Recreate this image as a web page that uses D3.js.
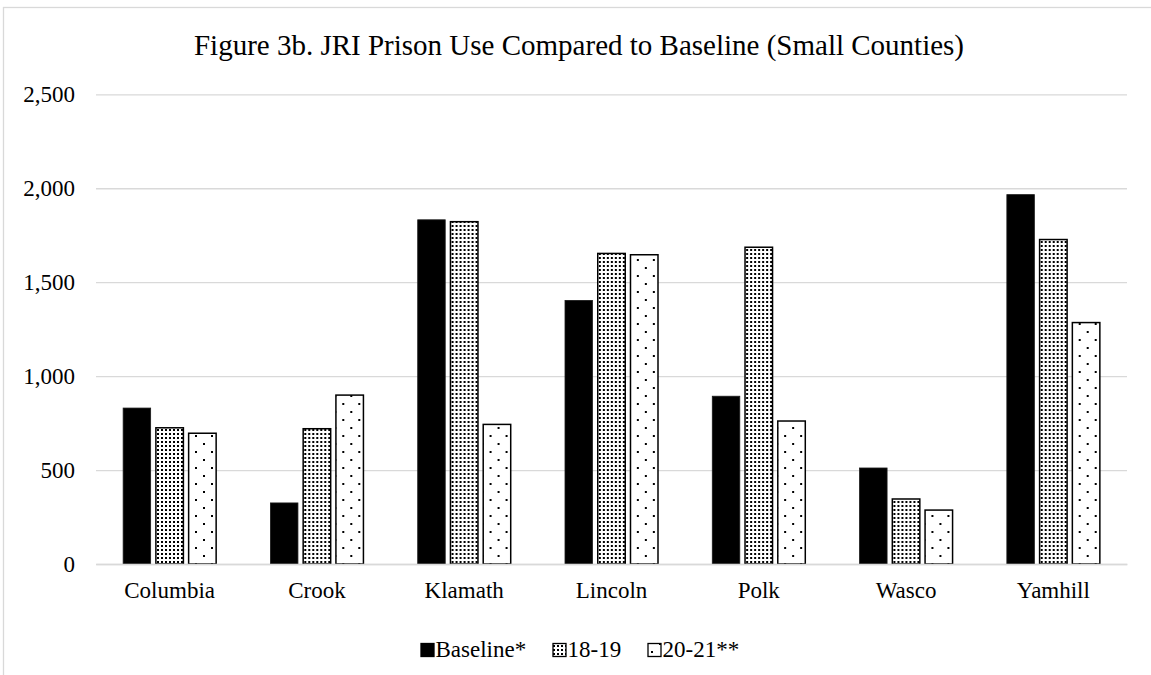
<!DOCTYPE html>
<html>
<head>
<meta charset="utf-8">
<script src="https://cdn.jsdelivr.net/npm/d3@7"></script>
<style>
  html, body { margin: 0; padding: 0; background: #fff; }
  svg { display: block; font-family: "Liberation Serif", "Times New Roman", serif; }
</style>
</head>
<body>
<svg id="chart" width="1151" height="675"></svg>
<script>
const title = "Figure 3b. JRI Prison Use Compared to Baseline (Small Counties)";
const categories = ["Columbia", "Crook", "Klamath", "Lincoln", "Polk", "Wasco", "Yamhill"];
const seriesNames = ["Baseline*", "18-19", "20-21**"];
const baselineValues = [830, 325, 1832, 1403, 893, 511, 1966];
const values1819 = [725, 720, 1822, 1653, 1686, 346, 1727];
const values2021 = [696, 899, 743, 1646, 761, 287, 1285];
const tickValues = [0, 500, 1000, 1500, 2000, 2500];

const seriesValues = [baselineValues, values1819, values2021];

const svg = d3.select("#chart");
const W = 1151, H = 675;
const plot = { left: 96, right: 1127, top: 94.3, bottom: 564 };

// chart frame (cropped at right/bottom in reference)
svg.append("rect")
  .attr("x", 3.5).attr("y", 7.5)
  .attr("width", W + 20).attr("height", H + 20)
  .attr("fill", "#fff").attr("stroke", "#d9d9d9").attr("stroke-width", 1.3);

// patterns
const defs = svg.append("defs");
const p1 = defs.append("pattern").attr("id", "pat1819")
  .attr("patternUnits", "userSpaceOnUse").attr("width", 4).attr("height", 4);
p1.append("rect").attr("width", 4).attr("height", 4).attr("fill", "#fff");
p1.append("rect").attr("x", 1).attr("y", 1).attr("width", 2).attr("height", 2).attr("fill", "#000");

const p2 = defs.append("pattern").attr("id", "pat2021")
  .attr("patternUnits", "userSpaceOnUse").attr("width", 16).attr("height", 16);
p2.append("rect").attr("width", 16).attr("height", 16).attr("fill", "#fff");
p2.append("rect").attr("x", 3).attr("y", 3).attr("width", 2).attr("height", 2).attr("fill", "#000");
p2.append("rect").attr("x", 11).attr("y", 11).attr("width", 2).attr("height", 2).attr("fill", "#000");

const fills = ["#000", "url(#pat1819)", "url(#pat2021)"];
const strokes = ["#1a1a1a", "#000", "#000"];
const strokeWidths = [0.8, 1.5, 1.5];

const y = d3.scaleLinear().domain([0, 2500]).range([plot.bottom, plot.top]);
const x0 = d3.scaleBand().domain(categories).range([plot.left, plot.right]).padding(0);
const groupW = 93;
const x1 = d3.scaleBand().domain(d3.range(seriesNames.length))
  .range([(x0.bandwidth() - groupW) / 2, (x0.bandwidth() + groupW) / 2])
  .paddingInner(0.16).paddingOuter(0);

// y axis with gridlines
const yAxis = svg.append("g")
  .attr("transform", `translate(${plot.left},0)`)
  .call(d3.axisLeft(y).tickValues(tickValues).tickFormat(d3.format(","))
    .tickSize(-(plot.right - plot.left)).tickPadding(21));
yAxis.select(".domain").remove();
yAxis.selectAll(".tick line").attr("stroke", "#d9d9d9").attr("stroke-width", 1.3);
yAxis.selectAll(".tick text")
  .attr("font-family", "Liberation Serif").attr("font-size", 23).attr("fill", "#000");

// bars
const groups = svg.append("g").selectAll("g")
  .data(categories)
  .join("g")
  .attr("transform", d => `translate(${x0(d)},0)`);

groups.selectAll("rect")
  .data((c, ci) => seriesValues.map((vals, si) => ({ si, v: vals[ci] })))
  .join("rect")
  .attr("x", d => x1(d.si))
  .attr("width", x1.bandwidth())
  .attr("y", d => y(d.v))
  .attr("height", d => y(0) - y(d.v))
  .attr("fill", d => fills[d.si])
  .attr("stroke", d => strokes[d.si])
  .attr("stroke-width", d => strokeWidths[d.si]);

// x axis
const xAxis = svg.append("g")
  .attr("transform", `translate(0,${plot.bottom})`)
  .call(d3.axisBottom(x0).tickSize(0).tickPadding(18));
xAxis.select(".domain").attr("stroke", "#d9d9d9").attr("stroke-width", 1.3);
xAxis.selectAll(".tick text")
  .attr("font-family", "Liberation Serif").attr("font-size", 23).attr("fill", "#000");

// title
svg.append("text")
  .attr("x", 579).attr("y", 55)
  .attr("text-anchor", "middle")
  .attr("font-size", 29)
  .attr("fill", "#000")
  .text(title);

// legend
const legendX = [421, 553, 648];
const legend = svg.append("g");
seriesNames.forEach((name, i) => {
  legend.append("rect")
    .attr("x", legendX[i]).attr("y", 643.5)
    .attr("width", 13).attr("height", 13)
    .attr("fill", fills[i]).attr("stroke", "#000").attr("stroke-width", 1.3);
  legend.append("text")
    .attr("x", legendX[i] + 14.5).attr("y", 657)
    .attr("font-size", 23).attr("fill", "#000")
    .text(name);
});
</script>
</body>
</html>
